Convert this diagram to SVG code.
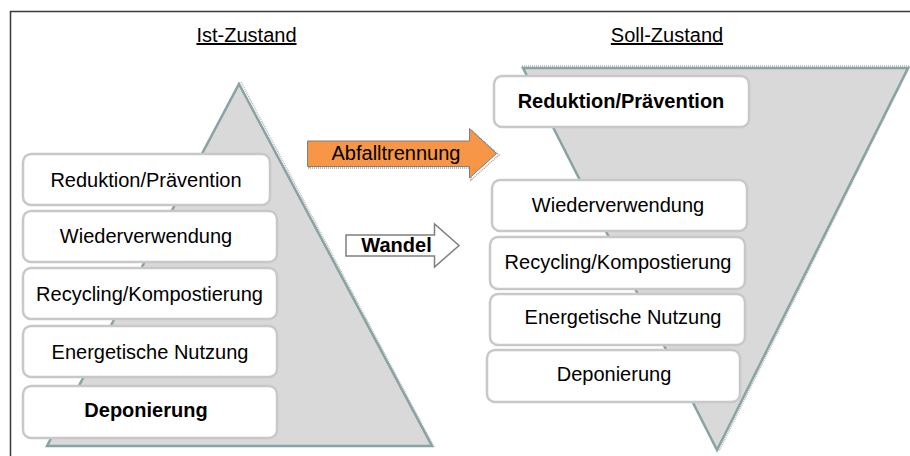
<svg xmlns="http://www.w3.org/2000/svg" width="910" height="456" viewBox="0 0 910 456">
<style>
text{font-family:"Liberation Sans",Arial,sans-serif;font-size:20px;fill:#000;text-anchor:middle}
.b{font-weight:bold}
.h{text-decoration:underline}
.box{fill:#fff;stroke:#c8c8c8;stroke-width:2.5}
.tri{fill:#d9d9d9;stroke:#87a3a3;stroke-width:2.5;stroke-linejoin:miter}
.shadow{fill:none;stroke:#b4b4b4;stroke-width:1.5;stroke-dasharray:1 1}
</style>
<rect width="910" height="456" fill="#fff"/>
<g id="frame">
<polyline points="10.5,456 10.5,11.5 910,11.5" fill="none" stroke="#3a3a3a" stroke-width="1.5"/>
</g>
<g id="ist-zustand">
<text class="h" x="246.5" y="42">Ist-Zustand</text>
<polyline class="shadow" points="241,82 434,447"/>
<polygon class="tri" points="239,84 432,446 47,446"/>
</g>
<g id="soll-zustand">
<text class="h" x="667" y="42">Soll-Zustand</text>
<polyline class="shadow" points="522,66 910,66 719,451"/>
<polygon class="tri" points="523,68 908,68 717,450"/>
</g>
<g id="ist-reduktion"><rect class="box" x="23" y="154" width="247" height="51" rx="8"/><text x="146" y="187">Reduktion/Prävention</text></g>
<g id="ist-wiederverwendung"><rect class="box" x="23" y="211" width="254" height="51" rx="8"/><text x="146" y="243">Wiederverwendung</text></g>
<g id="ist-recycling"><rect class="box" x="23" y="268" width="254" height="51" rx="8"/><text x="149.5" y="300.5">Recycling/Kompostierung</text></g>
<g id="ist-energetisch"><rect class="box" x="23" y="326" width="254" height="51" rx="8"/><text x="150" y="358.5">Energetische Nutzung</text></g>
<g id="ist-deponierung"><rect class="box" x="23" y="386" width="254" height="52" rx="8"/><text class="b" x="146" y="417">Deponierung</text></g>
<g id="soll-reduktion"><rect class="box" x="494" y="76" width="255" height="51" rx="8"/><text class="b" x="621" y="108">Reduktion/Prävention</text></g>
<g id="soll-wiederverwendung"><rect class="box" x="492" y="180" width="255" height="51" rx="8"/><text x="618" y="212">Wiederverwendung</text></g>
<g id="soll-recycling"><rect class="box" x="490" y="237" width="255" height="52" rx="8"/><text x="618" y="269">Recycling/Kompostierung</text></g>
<g id="soll-energetisch"><rect class="box" x="490" y="294" width="255" height="51" rx="8"/><text x="623" y="324">Energetische Nutzung</text></g>
<g id="soll-deponierung"><rect class="box" x="487" y="350" width="253" height="52" rx="8"/><text x="614" y="381">Deponierung</text></g>
<g id="connectors">
<g id="arrow-abfalltrennung">
<polygon points="309,143 471,143 471,130 499,155 471,180 471,168 309,168" fill="none" stroke="#a0a0a0" stroke-width="1.5" stroke-dasharray="1 1"/>
<polygon points="307.5,141 469.5,141 469.5,128.5 496.5,153.5 469.5,178 469.5,166.5 307.5,166.5" fill="#f79646" stroke="#7f7f7f" stroke-width="1"/>
<text x="396" y="159.5">Abfalltrennung</text>
</g>
<g id="arrow-wandel">
<polygon points="346,235 434.5,235 434.5,224 459,245.5 434.5,267 434.5,256 346,256" fill="#fff" stroke="#808080" stroke-width="1.5"/>
<text class="b" x="396.5" y="251.5">Wandel</text>
</g>
</g>
</svg>
